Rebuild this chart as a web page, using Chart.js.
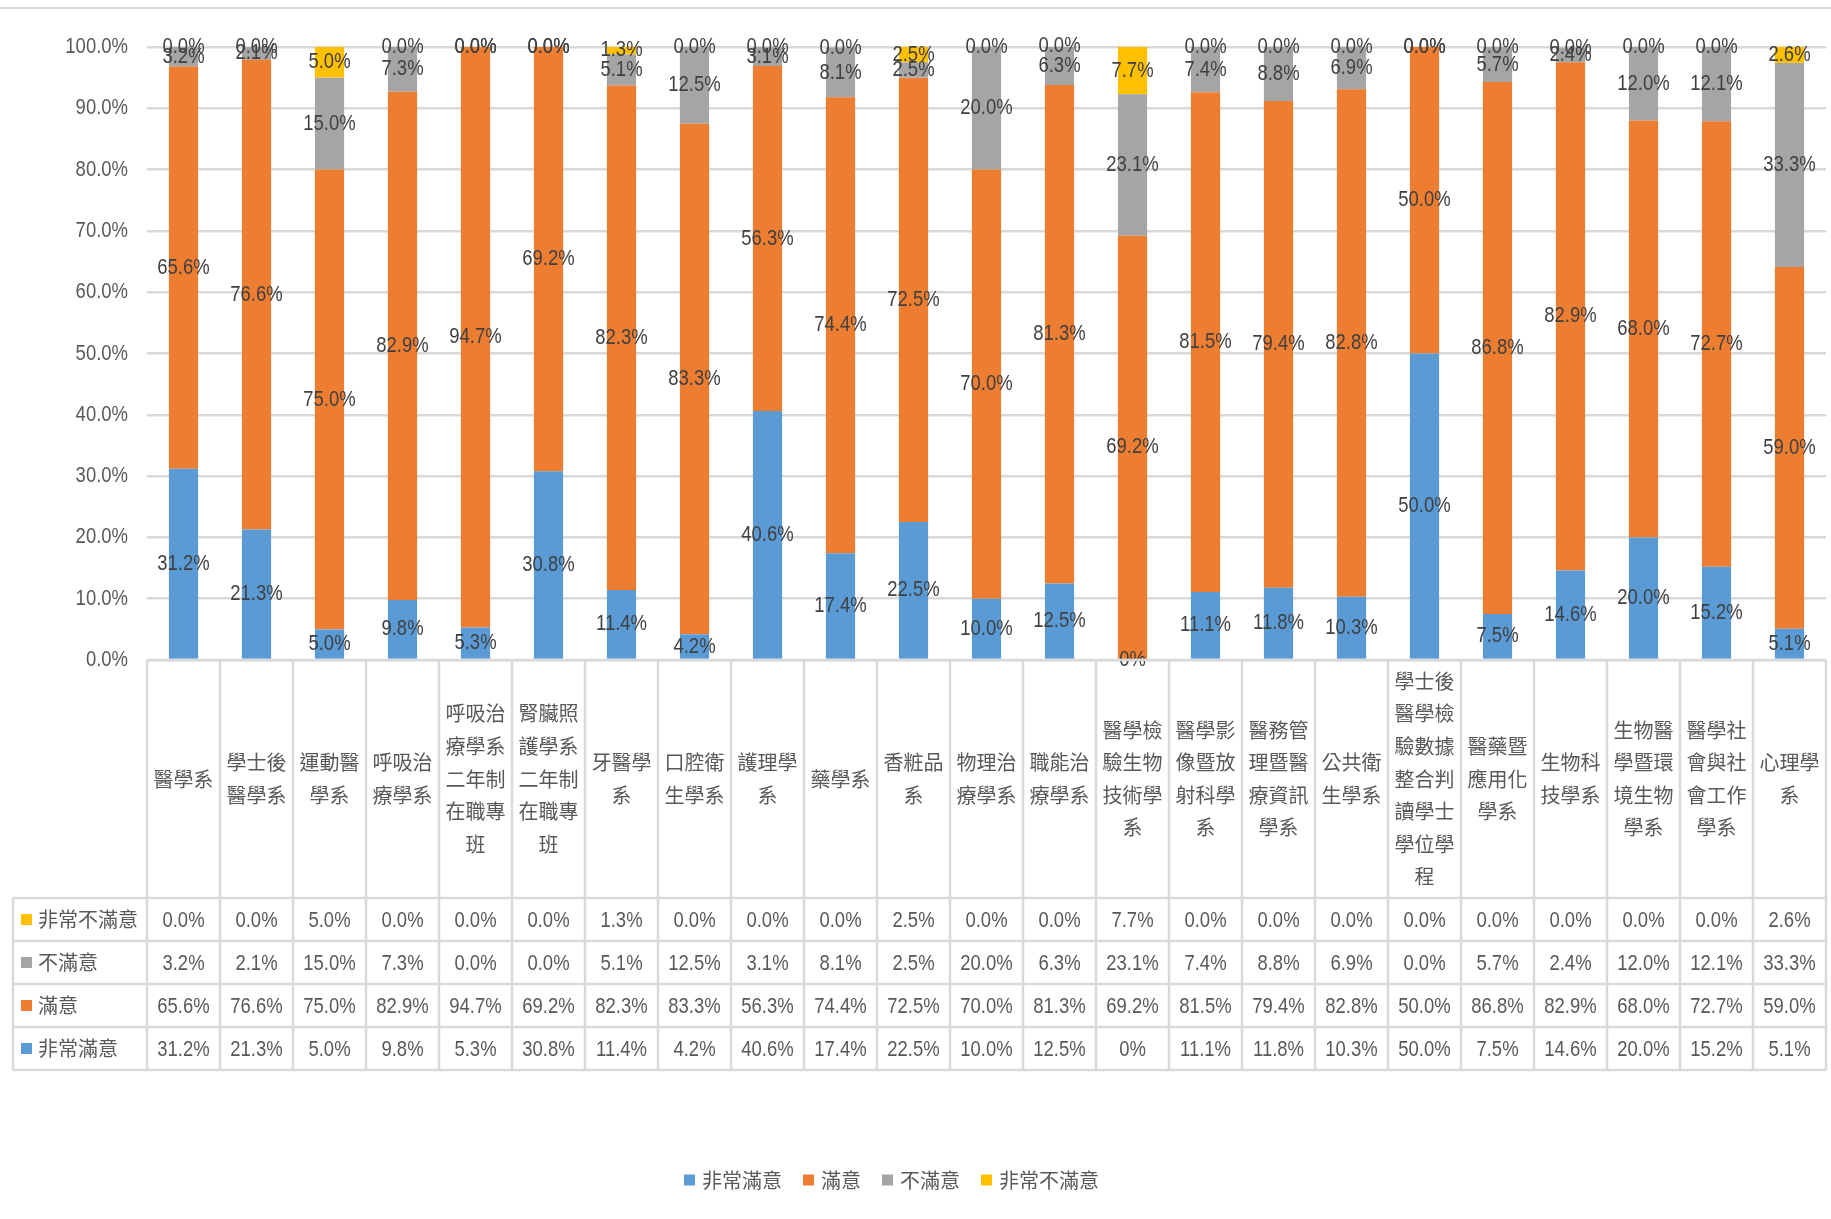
<!DOCTYPE html>
<html>
<head>
<meta charset="utf-8">
<script src="https://cdn.jsdelivr.net/npm/chart.js@4.4.0/dist/chart.umd.min.js"></script>
<style>
html, body { margin: 0; padding: 0; background: #fff; }
</style>
</head>
<body>
<canvas id="chart" width="1831" height="1219"></canvas>
<script>
// CATEGORY LABELS (already wrapped the way the table cells wrap them)
const categories = [
  ["醫學系"],
  ["學士後", "醫學系"],
  ["運動醫", "學系"],
  ["呼吸治", "療學系"],
  ["呼吸治", "療學系", "二年制", "在職專", "班"],
  ["腎臟照", "護學系", "二年制", "在職專", "班"],
  ["牙醫學", "系"],
  ["口腔衛", "生學系"],
  ["護理學", "系"],
  ["藥學系"],
  ["香粧品", "系"],
  ["物理治", "療學系"],
  ["職能治", "療學系"],
  ["醫學檢", "驗生物", "技術學", "系"],
  ["醫學影", "像暨放", "射科學", "系"],
  ["醫務管", "理暨醫", "療資訊", "學系"],
  ["公共衛", "生學系"],
  ["學士後", "醫學檢", "驗數據", "整合判", "讀學士", "學位學", "程"],
  ["醫藥暨", "應用化", "學系"],
  ["生物科", "技學系"],
  ["生物醫", "學暨環", "境生物", "學系"],
  ["醫學社", "會與社", "會工作", "學系"],
  ["心理學", "系"]
];

// SERIES VALUES (%)
const verySatisfied = [31.2, 21.3, 5.0, 9.8, 5.3, 30.8, 11.4, 4.2, 40.6, 17.4, 22.5, 10.0, 12.5, 0, 11.1, 11.8, 10.3, 50.0, 7.5, 14.6, 20.0, 15.2, 5.1];
const satisfied = [65.6, 76.6, 75.0, 82.9, 94.7, 69.2, 82.3, 83.3, 56.3, 74.4, 72.5, 70.0, 81.3, 69.2, 81.5, 79.4, 82.8, 50.0, 86.8, 82.9, 68.0, 72.7, 59.0];
const dissatisfied = [3.2, 2.1, 15.0, 7.3, 0.0, 0.0, 5.1, 12.5, 3.1, 8.1, 2.5, 20.0, 6.3, 23.1, 7.4, 8.8, 6.9, 0.0, 5.7, 2.4, 12.0, 12.1, 33.3];
const veryDissatisfied = [0.0, 0.0, 5.0, 0.0, 0.0, 0.0, 1.3, 0.0, 0.0, 0.0, 2.5, 0.0, 0.0, 7.7, 0.0, 0.0, 0.0, 0.0, 0.0, 0.0, 0.0, 0.0, 2.6];

const seriesNames = ["非常滿意", "滿意", "不滿意", "非常不滿意"];
const seriesColors = ["#5B9BD5", "#ED7D31", "#A5A5A5", "#FFC000"];

// Y TICKS
const yTicks = [0, 10, 20, 30, 40, 50, 60, 70, 80, 90, 100];

const NUM_FONT = "22px 'Liberation Sans', sans-serif";
const CJK_FONT = "20px 'Noto Sans CJK TC', sans-serif";
const LINE = "#D9D9D9";
const NARROW = 0.84; // the source numbers use a condensed face

// the one zero cell in the source is written as "0%"
function fmt(v, di) {
  if (di === 0 && v === 0) return "0%";
  return v.toFixed(1) + "%";
}

function narrowText(ctx, text, x, y) {
  ctx.save();
  ctx.translate(x, y);
  ctx.scale(NARROW, 1);
  ctx.fillText(text, 0, 0);
  ctx.restore();
}

// Y TICK LABELS + DATA LABELS IN THE MIDDLE OF EACH SEGMENT
const segLabels = {
  id: "segLabels",
  afterDatasetsDraw(chart) {
    const ctx = chart.ctx;
    const ys = chart.scales.y;
    ctx.save();
    ctx.font = NUM_FONT;
    ctx.textBaseline = "middle";
    ctx.fillStyle = "#595959";
    ctx.textAlign = "right";
    ys.ticks.forEach(t => narrowText(ctx, t.value.toFixed(1) + "%", chart.chartArea.left - 19, ys.getPixelForValue(t.value)));

    ctx.fillStyle = "#404040";
    ctx.textAlign = "center";
    chart.data.datasets.forEach((ds, di) => {
      chart.getDatasetMeta(di).data.forEach((bar, i) => {
        const p = bar.getProps(["x", "y", "base"], true);
        narrowText(ctx, fmt(ds.data[i], di), p.x, (p.y + p.base) / 2);
      });
    });
    ctx.restore();
  }
};

// DATA TABLE + LEGEND UNDER THE PLOT
const dataTable = {
  id: "dataTable",
  afterDraw(chart) {
    const ctx = chart.ctx;
    const xs = chart.scales.x;
    const area = chart.chartArea;
    const colW = xs.getPixelForValue(1) - xs.getPixelForValue(0);
    const left = xs.getPixelForValue(0) - colW / 2;
    const right = left + colW * categories.length;
    const top = area.bottom;
    const headBottom = 898;
    const rowH = 43;
    const rows = 4;
    const tableBottom = headBottom + rowH * rows;
    const headLeft = 13;

    ctx.save();
    // frame line at the very top
    ctx.strokeStyle = LINE;
    ctx.lineWidth = 2;
    ctx.beginPath();
    ctx.moveTo(0, 8);
    ctx.lineTo(chart.width, 8);
    ctx.stroke();

    ctx.lineWidth = 2.5;
    ctx.beginPath();
    ctx.moveTo(left, top);
    ctx.lineTo(right, top);
    for (let r = 0; r <= rows; r++) {
      const y = headBottom + r * rowH;
      ctx.moveTo(headLeft, y);
      ctx.lineTo(right, y);
    }
    for (let c = 0; c <= categories.length; c++) {
      const x = left + c * colW;
      ctx.moveTo(x, top);
      ctx.lineTo(x, tableBottom);
    }
    ctx.moveTo(headLeft, headBottom);
    ctx.lineTo(headLeft, tableBottom);
    ctx.stroke();

    // category names
    ctx.fillStyle = "#595959";
    ctx.textAlign = "center";
    ctx.textBaseline = "middle";
    ctx.font = CJK_FONT;
    const lh = 32.6;
    const midHead = (top + headBottom) / 2;
    categories.forEach((lines, i) => {
      const cx = xs.getPixelForValue(i);
      const y0 = midHead - (lines.length - 1) * lh / 2;
      lines.forEach((t, k) => ctx.fillText(t, cx, y0 + k * lh));
    });

    // rows: top row is the last series
    const datasets = chart.data.datasets;
    for (let r = 0; r < rows; r++) {
      const di = datasets.length - 1 - r;
      const ds = datasets[di];
      const cy = headBottom + r * rowH + rowH / 2;
      ctx.fillStyle = ds.backgroundColor;
      ctx.fillRect(21, cy - 5.5, 11, 11);
      ctx.fillStyle = "#595959";
      ctx.textAlign = "left";
      ctx.font = CJK_FONT;
      ctx.fillText(ds.label, 38, cy);
      ctx.textAlign = "center";
      ctx.font = NUM_FONT;
      ds.data.forEach((v, i) => narrowText(ctx, fmt(v, di), xs.getPixelForValue(i), cy + 1));
    }

    // legend
    ctx.font = CJK_FONT;
    const box = 11, gapIn = 7, gapOut = 21;
    let total = 0;
    datasets.forEach((ds, i) => {
      total += box + gapIn + ctx.measureText(ds.label).width;
      if (i < datasets.length - 1) total += gapOut;
    });
    let x = 681 + (1102 - 681 - total) / 2;
    const ly = 1180;
    ctx.textAlign = "left";
    datasets.forEach(ds => {
      ctx.fillStyle = ds.backgroundColor;
      ctx.fillRect(x, ly - box / 2, box, box);
      x += box + gapIn;
      ctx.fillStyle = "#595959";
      ctx.fillText(ds.label, x, ly);
      x += ctx.measureText(ds.label).width + gapOut;
    });
    ctx.restore();
  }
};

const seriesData = [verySatisfied, satisfied, dissatisfied, veryDissatisfied];

new Chart(document.getElementById("chart"), {
  type: "bar",
  data: {
    labels: categories,
    datasets: seriesData.map((d, i) => ({
      label: seriesNames[i],
      data: d,
      backgroundColor: seriesColors[i],
      borderWidth: 0,
      categoryPercentage: 1,
      barPercentage: 0.4
    }))
  },
  options: {
    responsive: false,
    animation: false,
    layout: { padding: { left: 0, right: 5, top: 47, bottom: 559 } },
    plugins: {
      legend: { display: false },
      tooltip: { enabled: false }
    },
    scales: {
      x: { stacked: true, display: false },
      y: {
        stacked: true,
        min: yTicks[0],
        max: yTicks[yTicks.length - 1],
        afterBuildTicks: s => { s.ticks = yTicks.map(v => ({ value: v })); },
        afterFit: s => { s.width = 147; },
        border: { display: false },
        grid: { color: LINE, lineWidth: 2.5, drawTicks: false },
        ticks: { display: false }
      }
    }
  },
  plugins: [segLabels, dataTable]
});
</script>
</body>
</html>
